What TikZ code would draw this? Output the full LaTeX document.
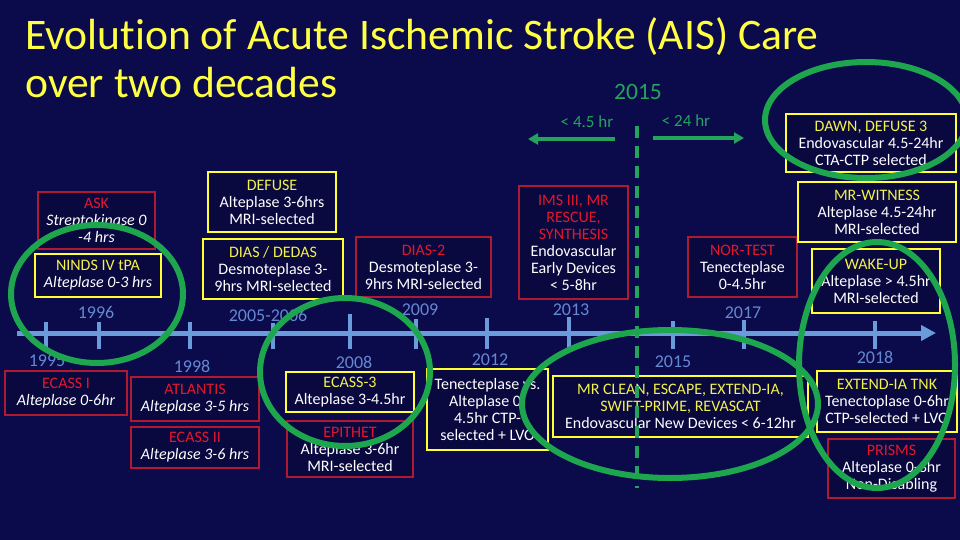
\documentclass[tikz,border=0pt]{standalone}
\usepackage{fontspec}
\setmainfont{Carlito}[Ligatures=NoCommon]
\usepackage{xcolor}
\usepackage{tikz}
\usetikzlibrary{arrows.meta}
\definecolor{navybg}{HTML}{0B0A4B}
\definecolor{navybox}{HTML}{09083F}
\definecolor{headyellow}{HTML}{FFFF44}
\definecolor{trialyellow}{HTML}{FFFF33}
\definecolor{titleyellow}{HTML}{F2F24B}
\definecolor{trialred}{HTML}{B01A30}
\definecolor{titlered}{HTML}{E3182C}
\definecolor{ringgreen}{HTML}{1EA64F}
\definecolor{linegreen}{HTML}{23A45C}
\definecolor{axisblue}{HTML}{6A9CDB}
\definecolor{yearblue}{HTML}{6489D2}
\tikzset{
  trialbox/.style={
    rectangle, draw=#1, fill=navybox, text=white,
    align=center, inner sep=1pt,
    font=\fontsize{16}{17}\selectfont
  },
  trialbox/.default=trialred,
  redbox/.style={trialbox=trialred, line width=1.3pt},
  yellowbox/.style={trialbox=trialyellow, line width=2.8pt},
  boxsize/.style 2 args={minimum width=#1pt, minimum height=#2pt},
  yearlabel/.style={
    font=\fontsize{18}{20}\selectfont, text=yearblue, inner sep=0pt
  },
  windowlabel/.style={
    font=\fontsize{17}{19}\selectfont, text=linegreen, inner sep=0pt
  },
  windowarrow/.style={
    -{Triangle[length=10pt,width=11pt]}, line width=4pt, color=linegreen
  },
  greenring/.style={draw=ringgreen, line width=6pt},
}

\begin{document}
\begin{tikzpicture}[x=1pt,y=-1pt]
  \useasboundingbox (0,0) rectangle (960,540);
  \fill[navybg] (0,0) rectangle (960,540);

  % Title
  \node[anchor=base west, inner sep=0pt, text=headyellow,
    font=\fontsize{43.6}{48}\selectfont] (title1) at (25,50)
    {Evolution of Acute Ischemic Stroke (AIS) Care};
  \node[anchor=base west, inner sep=0pt, text=headyellow,
    font=\fontsize{43.6}{48}\selectfont] (title2) at (25,98)
    {over two decades};

  % Time window split
  \node[inner sep=0pt, text=linegreen, font=\fontsize{23.5}{25}\selectfont]
    (split2015) at (638,92) {2015};
  \node[windowlabel] (early) at (587,122) {< 4.5 hr};
  \node[windowlabel] (late) at (686,121) {< 24 hr};
  \coordinate (earlyfrom) at (615,139);
  \coordinate (earlyto) at (528,139);
  \coordinate (latefrom) at (653,138);
  \coordinate (lateto) at (744,138);
  \draw[windowarrow] (earlyfrom) -- (earlyto);
  \draw[windowarrow] (latefrom) -- (lateto);

  % Timeline
  \coordinate (axisstart) at (17,333);
  \coordinate (axisend) at (936,333);
  \draw[-{Triangle[length=15pt,width=15pt]}, line width=5pt, axisblue]
    (axisstart) -- (axisend);
  \foreach \tx/\ttop in {46/322, 99/322, 190/322, 273/323, 350/314,
      416/319, 487/318, 569/317, 673/321, 744/320, 875/321}
    \draw[axisblue, line width=4pt] (\tx,\ttop) -- (\tx,349);

  \node[yearlabel] (y1996) at (96,312) {1996};
  \node[yearlabel] (y2005) at (268,315) {2005-2006};
  \node[yearlabel] (y2009) at (420,310) {2009};
  \node[yearlabel] (y2013) at (571,310) {2013};
  \node[yearlabel] (y2017) at (743,313) {2017};
  \node[yearlabel] (y1995) at (47,361) {1995};
  \node[yearlabel] (y1998) at (192,366) {1998};
  \node[yearlabel] (y2008) at (354,362) {2008};
  \node[yearlabel] (y2012) at (490,360) {2012};
  \node[yearlabel] (y2015) at (673,362) {2015};
  \node[yearlabel] (y2018) at (875,357) {2018};

  % Trials above the timeline
  \node[redbox, boxsize={117}{57}] (ask) at (96.5,220.5)
    {\textcolor{titlered}{ASK}\\\textit{Streptokinase 0}\\\textit{-4 hrs}};
  \node[yellowbox, boxsize={126}{43}] (ninds) at (98,275.5)
    {\textcolor{titleyellow}{NINDS IV tPA}\\\textit{Alteplase 0-3 hrs}};
  \node[yellowbox, boxsize={128}{60}] (defuse) at (272,202)
    {\textcolor{titleyellow}{DEFUSE}\\Alteplase 3-6hrs\\MRI-selected};
  \node[yellowbox, boxsize={140}{60}] (dias) at (273,269)
    {\textcolor{titleyellow}{DIAS / DEDAS}\\Desmoteplase 3-\\9hrs MRI-selected};
  \node[redbox, boxsize={135}{60}] (dias2) at (423.5,267)
    {\textcolor{titlered}{DIAS-2}\\Desmoteplase 3-\\9hrs MRI-selected};
  \node[redbox, boxsize={109}{113}] (ims) at (573.5,242.5)
    {\textcolor{titlered}{IMS III, MR}\\\textcolor{titlered}{RESCUE,}\\
     \textcolor{titlered}{SYNTHESIS}\\Endovascular\\Early Devices\\< 5-8hr};
  \node[redbox, boxsize={109}{60}] (nortest) at (742.5,267)
    {\textcolor{titlered}{NOR-TEST}\\Tenecteplase\\0-4.5hr};
  \node[yellowbox, boxsize={170}{58}] (dawn) at (871,143)
    {\textcolor{titleyellow}{DAWN, DEFUSE 3}\\Endovascular 4.5-24hr\\CTA-CTP selected};
  \node[yellowbox, boxsize={158}{60}] (witness) at (877,212)
    {\textcolor{titleyellow}{MR-WITNESS}\\Alteplase 4.5-24hr\\MRI-selected};
  \node[yellowbox, boxsize={128}{64}] (wakeup) at (876,281)
    {\textcolor{titleyellow}{WAKE-UP}\\Alteplase > 4.5hr\\MRI-selected};

  % Trials below the timeline
  \node[redbox, boxsize={122}{44}] (ecass1) at (66,393)
    {\textcolor{titlered}{ECASS I}\\\textit{Alteplase 0-6hr}};
  \node[redbox, boxsize={128}{44}] (atlantis) at (195,399)
    {\textcolor{titlered}{ATLANTIS}\\\textit{Alteplase 3-5 hrs}};
  \node[redbox, boxsize={128}{41}] (ecass2) at (195,447.5)
    {\textcolor{titlered}{ECASS II}\\\textit{Alteplase 3-6 hrs}};
  \node[yellowbox, boxsize={128}{40}] (ecass3) at (350,392)
    {\textcolor{titleyellow}{ECASS-3}\\Alteplase 3-4.5hr};
  \node[redbox, boxsize={126}{56}] (epithet) at (350,449)
    {\textcolor{titlered}{EPITHET}\\Alteplase 3-6hr\\MRI-selected};
  \node[yellowbox, boxsize={121}{81}] (tnkvs) at (487.5,409.5)
    {Tenecteplase vs.\\Alteplase 0-\\4.5hr CTP-\\selected + LVO};
  \node[yellowbox, boxsize={255}{61}] (mrclean) at (680.5,406.5)
    {\textcolor{titleyellow}{MR CLEAN, ESCAPE, EXTEND-IA,}\\
     \textcolor{titleyellow}{SWIFT-PRIME, REVASCAT}\\
     Endovascular New Devices < 6-12hr};
  \node[yellowbox, boxsize={140}{61}] (extendtnk) at (887,401.5)
    {\textcolor{titleyellow}{EXTEND-IA TNK}\\Tenectoplase 0-6hr\\CTP-selected + LVO};
  \node[redbox, boxsize={127}{59}] (prisms) at (891.5,468.5)
    {\textcolor{titlered}{PRISMS}\\Alteplase 0-3hr\\Non-Disabling};

  % 2015 divider
  \coordinate (splittop) at (637,126);
  \coordinate (splitbottom) at (637,488);
  \draw[linegreen, line width=4pt, dash pattern=on 12pt off 8pt]
    (splittop) -- (splitbottom);

  % Highlight rings
  \draw[greenring] (97,294) ellipse [x radius=86pt, y radius=69pt];
  \draw[greenring] (345,372) ellipse [x radius=85pt, y radius=74pt];
  \draw[greenring] (670,404) ellipse [x radius=148pt, y radius=74pt];
  \draw[greenring] (866,120) ellipse [x radius=101pt, y radius=58pt];
  \draw[greenring] (877,365) ellipse [x radius=78pt, y radius=123pt];
\end{tikzpicture}
\end{document}
